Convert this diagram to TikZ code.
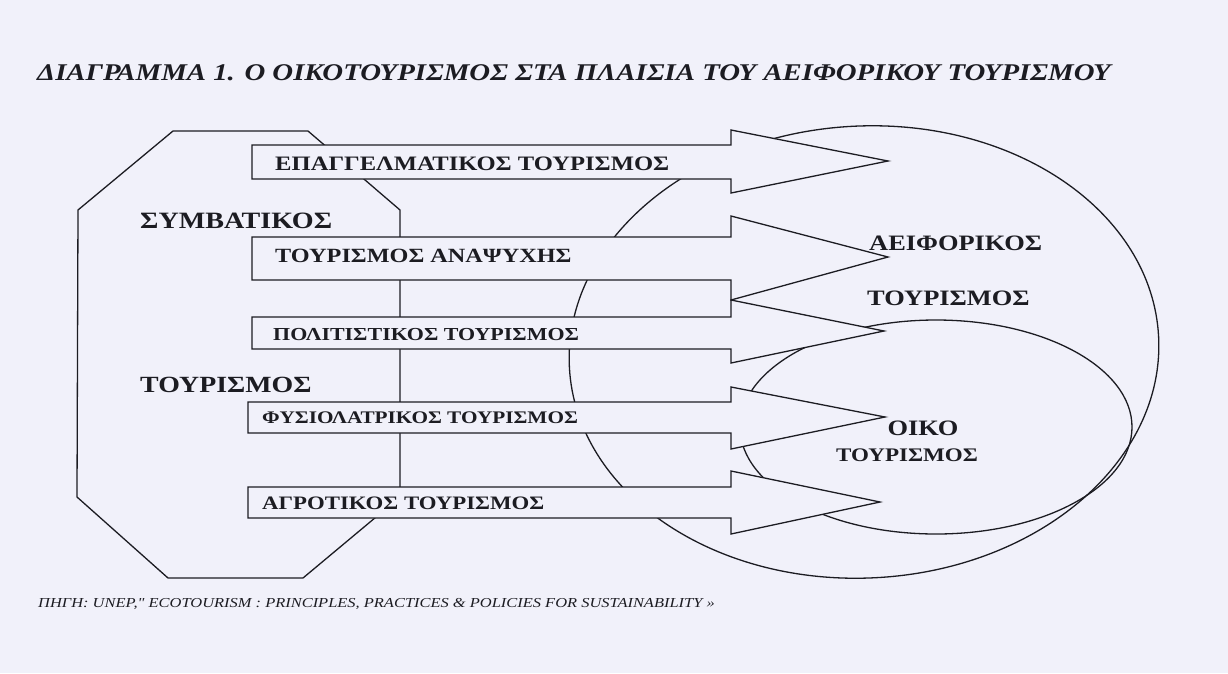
\documentclass[tikz,border=0pt]{standalone}
\usepackage{fontspec}
\setmainfont{Liberation Serif}
\newfontfamily\scanfont[FakeStretch=1.2]{Liberation Serif}
\usepackage{xcolor}
\definecolor{paper}{RGB}{241,241,250}
\definecolor{ink}{RGB}{28,28,34}

\begin{document}
\begin{tikzpicture}[x=1pt,y=-1pt]
        \tikzset{
          outline/.style={draw=ink, line width=1.3pt, line join=miter},
          blockarrow/.style={draw=ink, fill=paper, line width=1.3pt, line join=miter},
          lbl/.style={inner sep=0pt, text=ink, anchor=west, font=\scanfont\bfseries\fontsize{#1}{#1}\selectfont},
          lbl/.default=19,
          biglbl/.style={lbl=22}
        }
        \fill[paper] (0,0) rectangle (1228,673);
        \useasboundingbox (0,0) rectangle (1228,673);

        % — title —
        \node[inner sep=0pt, anchor=west, text=ink, font=\scanfont\bfseries\itshape\fontsize{24}{24}\selectfont] (title) at (37,73)
          {ΔΙΑΓΡΑΜΜΑ 1. Ο ΟΙΚΟΤΟΥΡΙΣΜΟΣ ΣΤΑ ΠΛΑΙΣΙΑ ΤΟΥ ΑΕΙΦΟΡΙΚΟΥ ΤΟΥΡΙΣΜΟΥ};

        % — conventional tourism (octagon) —
        \draw[outline] (78,210) -- (173,131) -- (308,131) -- (400,210)
          -- (400,497) -- (303,578) -- (168,578) -- (77,497) -- cycle;
        \node[lbl=23.4] (symv) at (140,221) {ΣΥΜΒΑΤΙΚΟΣ};
        \node[lbl=23.2] (tour) at (140,385) {ΤΟΥΡΙΣΜΟΣ};

        % — sustainable and eco tourism (ellipses) —
        \draw[outline, rotate around={3:(864,352)}] (864,352) ellipse [x radius=295, y radius=226];
        \draw[outline] (936,427) ellipse [x radius=196, y radius=107];

        % — block arrows: name/left/shaft top/shaft bottom/head top/head bottom/tip —
        \foreach \nm/\xl/\st/\sb/\ht/\hb/\tx/\ty in {
            a1/252/145/179/130/193/888/161,
            a2/252/237/280/216/300/888/257,
            a3/252/317/349/300/363/884/331,
            a4/248/402/433/387/449/885/417,
            a5/248/487/518/471/534/880/502} {
          \coordinate (\nm tip) at (\tx,\ty);
          \draw[blockarrow] (\xl,\st) -- (731,\st) -- (731,\ht) -- (\nm tip)
            -- (731,\hb) -- (731,\sb) -- (\xl,\sb) -- cycle;
        }
        \node[lbl=20.5] (epag) at (275,164) {ΕΠΑΓΓΕΛΜΑΤΙΚΟΣ ΤΟΥΡΙΣΜΟΣ};
        \node[lbl=20.2] (anap) at (275,256) {ΤΟΥΡΙΣΜΟΣ ΑΝΑΨΥΧΗΣ};
        \node[lbl=18.3] (poli) at (273,335) {ΠΟΛΙΤΙΣΤΙΚΟΣ ΤΟΥΡΙΣΜΟΣ};
        \node[lbl=17.7] (fysi) at (262,418) {ΦΥΣΙΟΛΑΤΡΙΚΟΣ ΤΟΥΡΙΣΜΟΣ};
        \node[lbl=19] (agro) at (262,503) {ΑΓΡΟΤΙΚΟΣ ΤΟΥΡΙΣΜΟΣ};

        \node[biglbl] (aeif) at (869,243) {ΑΕΙΦΟΡΙΚΟΣ};
        \node[biglbl] (aeift) at (867,298) {ΤΟΥΡΙΣΜΟΣ};
        \node[biglbl, anchor=center] (oiko) at (923,428) {ΟΙΚΟ};
        \node[lbl=19.2, anchor=center] (oikot) at (907,455) {ΤΟΥΡΙΣΜΟΣ};

        % — source —
        \node[inner sep=0pt, anchor=west, text=ink, font=\scanfont\itshape\fontsize{13.7}{13.7}\selectfont] (source) at (38,604)
          {ΠΗΓΗ: UNEP," ECOTOURISM : PRINCIPLES, PRACTICES \& POLICIES FOR SUSTAINABILITY »};
\end{tikzpicture}
\end{document}
